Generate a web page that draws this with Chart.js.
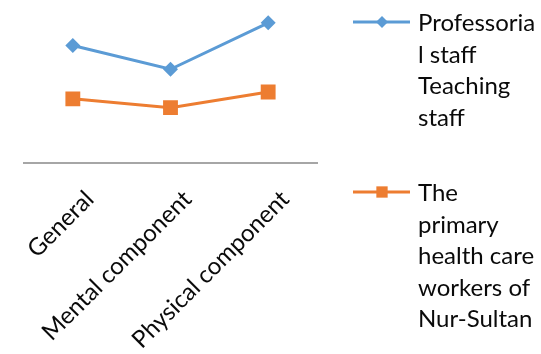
<!DOCTYPE html>
<html>
<head>
<meta charset="UTF-8">
<script src="https://cdn.jsdelivr.net/npm/chart.js"></script>
<style>
  html, body { margin: 0; padding: 0; background: #fff; }
  #wrap { width: 541px; height: 354px; }
</style>
</head>
<body>
<div id="wrap"><canvas id="chart" width="541" height="354"></canvas></div>
<script>
const categories = ['General', 'Mental component', 'Physical component'];
const teachingStaff = [58.4, 46.6, 69.7];
const healthWorkers = [31.9, 27.5, 35.3];
const legendLines = [
  ['Professoria', 'l staff', 'Teaching', 'staff'],
  ['The', 'primary', 'health care', 'workers of', 'Nur-Sultan']
];

const FONT = 'Lato, "Open Sans", sans-serif';

// legend drawn on the right, text wrapped like the original
const sideLegend = {
  id: 'sideLegend',
  afterDraw(chart) {
    const ctx = chart.ctx;
    const rows = [22, 192];
    chart.data.datasets.forEach((ds, i) => {
      const y = rows[i];
      ctx.save();
      ctx.strokeStyle = ds.borderColor;
      ctx.lineWidth = 3;
      ctx.beginPath();
      ctx.moveTo(353, y);
      ctx.lineTo(410, y);
      ctx.stroke();
      ctx.fillStyle = ds.backgroundColor;
      Chart.helpers.drawPoint(ctx, { pointStyle: ds.pointStyle, radius: i ? 8 : 6, borderWidth: 0, rotation: 0 }, 382, y);
      ctx.fillStyle = '#0a0a0a';
      ctx.font = '24px ' + FONT;
      ctx.textBaseline = 'alphabetic';
      ctx.textAlign = 'left';
      legendLines[i].forEach((t, k) => ctx.fillText(t, 418, y + 9 + k * 31.5));
      ctx.restore();
    });
  }
};

new Chart(document.getElementById('chart'), {
  type: 'line',
  data: {
    labels: categories,
    datasets: [
      {
        label: legendLines[0].join(''),
        data: teachingStaff,
        borderColor: '#5B9BD5',
        backgroundColor: '#5B9BD5',
        borderWidth: 3,
        pointStyle: 'rectRot',
        pointRadius: 7.5,
        pointBorderWidth: 0,
        tension: 0
      },
      {
        label: legendLines[1].join(' '),
        data: healthWorkers,
        borderColor: '#ED7D31',
        backgroundColor: '#ED7D31',
        borderWidth: 3,
        pointStyle: 'rect',
        pointRadius: 10.5,
        pointBorderWidth: 0,
        tension: 0
      }
    ]
  },
  options: {
    responsive: false,
    animation: false,
    layout: { padding: { left: 24, right: 224, top: 0, bottom: 0 } },
    plugins: { legend: { display: false }, tooltip: { enabled: false } },
    scales: {
      x: {
        offset: true,
        grid: { display: false, drawTicks: false },
        border: { color: '#A6A6A6', width: 2 },
        ticks: {
          minRotation: 45,
          maxRotation: 45,
          color: '#0a0a0a',
          padding: 22,
          labelOffset: 17,
          font: { family: FONT, size: 24 }
        },
        afterFit(scale) {
          scale.height = 191;
          scale.paddingLeft = 0;
          scale.paddingRight = 0;
        }
      },
      y: { display: false, min: 0, max: 75.8 }
    }
  },
  plugins: [sideLegend]
});
</script>
</body>
</html>
